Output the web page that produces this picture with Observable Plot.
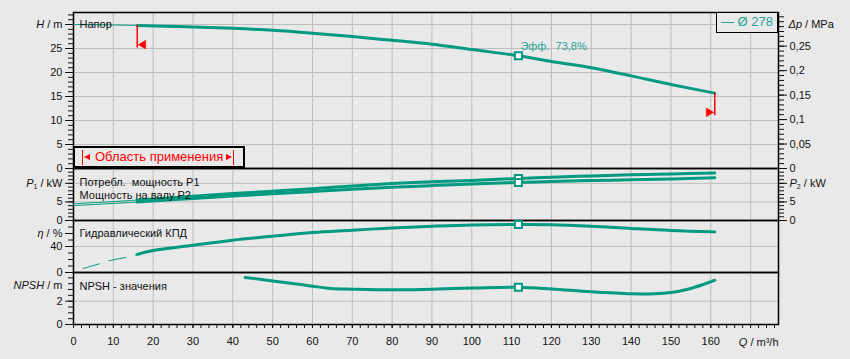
<!DOCTYPE html>
<html><head><meta charset="utf-8">
<script src="https://cdn.jsdelivr.net/npm/d3@7"></script>
<script src="https://cdn.jsdelivr.net/npm/@observablehq/plot@0.6"></script>
<style>
html,body{margin:0;padding:0;background:#e9e9e9;}
#chart{position:relative;width:850px;height:359px;font-family:"Liberation Sans",Arial,sans-serif;color:#111;overflow:hidden;}
#chart svg{position:absolute;left:0;overflow:visible;}
.box{position:absolute;box-sizing:border-box;background:#e9e9e9;}
</style></head><body><div id="chart"></div>
<script>
// ---------- data ----------
const flowH   = [0, 10, 16, 20, 30, 40, 50, 60, 70, 80, 90, 100, 111.7, 120, 130, 140, 150, 161];
const headM   = [30.0, 29.9, 29.8, 29.7, 29.5, 29.2, 28.8, 28.2, 27.5, 26.7, 25.9, 24.8, 23.5, 22.3, 21.0, 19.3, 17.5, 15.7];
const flowP   = [0, 10, 16, 20, 30, 40, 50, 60, 70, 80, 90, 100, 111.7, 120, 130, 140, 150, 161];
const powerP1 = [4.5, 5.1, 5.5, 5.8, 6.55, 7.25, 7.9, 8.55, 9.3, 9.95, 10.4, 10.8, 11.3, 11.65, 12.0, 12.3, 12.55, 12.8];
const powerP2 = [4.0, 4.6, 4.95, 5.25, 5.95, 6.6, 7.2, 7.8, 8.4, 8.95, 9.4, 9.8, 10.25, 10.5, 10.75, 10.95, 11.2, 11.5];
const flowEta = [0, 2.5, 6.7, 9.5, 13.8, 16, 20, 30, 40, 50, 60, 70, 80, 90, 100, 111.7, 120, 130, 140, 150, 161];
const effEta  = [1.5, 6.2, 13.8, 18.9, 24, 27.8, 33.8, 42, 49.7, 55.8, 61.5, 65, 68.6, 71.2, 73.2, 73.8, 73.5, 71.2, 67.7, 64.6, 62.5];
const flowNpsh = [43.1, 50, 57, 60, 64.5, 70, 80, 90, 100, 111.7, 120, 130, 140, 146, 150, 154.5, 158, 161];
const npshM    = [4.03, 3.74, 3.43, 3.29, 3.09, 3.03, 2.97, 3.03, 3.12, 3.2, 3.05, 2.8, 2.63, 2.64, 2.75, 3.05, 3.42, 3.8];
const dutyQ = 111.7;
const dutyLabel = "Эфф.\u00a0\u00a073,8%";
const rangeLimits = [16, 161];
const qTicks = [0,10,20,30,40,50,60,70,80,90,100,110,120,130,140,150,160];
const hTicks = [0,5,10,15,20,25];
const dpTicks = [0, 0.05, 0.1, 0.15, 0.2, 0.25];
const dpLabels = ["0","0,05","0,1","0,15","0,2","0,25"];
const pTicks = [0,5];
const etaTicks = [0,40];
const npshTicks = [0,2];
const legendLabel = "— Ø 278";
const rangeLabel = "Область применения";
const panelTexts = {h:["Напор"], p:["Потребл.\u00a0\u00a0мощность P1","Мощность на валу P2"], eta:["Гидравлический КПД"], npsh:["NPSH - значения"]};

// ---------- helpers ----------
const teal = "#009a80", tealText = "#25a597", gridC = "#bdbdbd";
const zip = (qs, vs) => qs.map((q,i)=>({q, v: vs[i]}));
const H = zip(flowH, headM), P1 = zip(flowP, powerP1), P2 = zip(flowP, powerP2);
const ETA = zip(flowEta, effEta), NPSH = zip(flowNpsh, npshM);
const lo = d => d.q <= rangeLimits[0], hi = d => d.q >= rangeLimits[0];
const at = (arr, q) => arr.find(d => d.q === q);
const MPA_TO_M = 1000/9.81;
const xDomain = [0, 177];
const xGrid = d3.range(10, 171, 10);
const chart = document.getElementById("chart");

function curve(data, w, extra={}) {
  return Plot.line(data, {x:"q", y:"v", stroke: teal, strokeWidth: w, curve: "catmull-rom", ...extra});
}
function duty(arr) {
  return Plot.dot([at(arr, dutyQ)], {x:"q", y:"v", symbol:"square", r:4, fill:"white", stroke: teal, strokeWidth: 2});
}
function panel(top, height, mt, mb, yDomain, marks) {
  const svg = Plot.plot({
    width: 850, height, marginLeft: 73, marginRight: 72, marginTop: mt, marginBottom: mb,
    x: {domain: xDomain, axis: null, label: null}, y: {domain: yDomain, axis: null, label: null},
    style: {fontFamily: '"Liberation Sans", Arial, sans-serif', fontSize: "11px", background: "transparent", color: "#111", overflow: "visible"},
    marks
  });
  svg.style.top = top + "px";
  chart.append(svg);
  enrich(svg);
}
const rich = {
  "H / m": [["H","i"],[" / m"]],
  "P1 / kW": [["P","i"],["1","s"],[" / kW","u"]],
  "P2 / kW": [["P","i"],["2","s"],[" / kW","u"]],
  "η / %": [["η","i"],[" / %"]],
  "NPSH / m": [["NPSH","i"],[" / m"]],
  "Δp / MPa": [["Δp","i"],[" / MPa"]],
  "Q / m³/h": [["Q","i"],[" / m³/h"]]
};
function enrich(svg) {
  d3.select(svg).selectAll("text").each(function() {
    const parts = rich[this.textContent];
    if (!parts) return;
    const s = d3.select(this); s.text(null);
    parts.forEach(([t, k]) => {
      const ts = s.append("tspan").text(t);
      if (k === "i") ts.attr("font-style", "italic");
      if (k === "s") ts.attr("font-size", "7px").attr("dy", "2");
      if (k === "u") ts.attr("dy", "-2");
    });
  });
}
const none = () => "";
const ay = (ticks, o) => Plot.axisY(ticks, {label: null, ...o});
const ax = (ticks, o) => Plot.axisX(ticks, {label: null, ...o});
const gx = () => Plot.gridX(xGrid, {stroke: gridC, strokeOpacity: 1});
const frame = () => Plot.frame({stroke: "#000", strokeWidth: 1.5});
const label = (txt, dy) => Plot.text([txt], {text: d => d, frameAnchor: "top-left", dx: 6, dy, textAnchor: "start", lineAnchor: "middle", fill: "#111"});

// ---------- panel 1: head ----------
const limits = rangeLimits.map(q => ({q, h: at(H, q).v}));
const dpMap = new Map(dpTicks.map((d,i) => [d*MPA_TO_M, dpLabels[i]]));
panel(0, 168, 12, 0, [0, 32.5], [
  gx(),
  Plot.gridY([...hTicks.slice(1), 30], {stroke: gridC, strokeOpacity: 1}),
  ay(d3.range(0, 33), {anchor: "left", tickSize: 5, tickFormat: none}),
  ay([...hTicks, 30], {anchor: "left", tickSize: 8, tickPadding: 3, tickFormat: d => d === 30 ? "H / m" : String(d)}),
  ay(d3.range(0, 32).map(k => k/100*MPA_TO_M), {anchor: "right", tickSize: 5, tickFormat: none}),
  ay([...dpMap.keys()], {anchor: "right", tickSize: 8, tickPadding: 3, tickFormat: d => dpMap.get(d)}),
  Plot.text([30], {y: d => d, text: () => "Δp / MPa", frameAnchor: "right", dx: 10, textAnchor: "start"}),
  frame(),
  curve(H.filter(lo), 1),
  curve(H.filter(hi), 3),
  Plot.ruleX(limits, {x: "q", y1: "h", y2: d => d.h - 4.7, stroke: "red", strokeWidth: 1.5}),
  Plot.dot(limits.slice(0,1), {x: "q", y: d => d.h - 4.0, symbol: "triangle", r: 3.2, fill: "red", stroke: "red", strokeWidth: 0.5, rotate: -90, dx: 6}),
  Plot.dot(limits.slice(1), {x: "q", y: d => d.h - 4.0, symbol: "triangle", r: 3.2, fill: "red", stroke: "red", strokeWidth: 0.5, rotate: 90, dx: -6}),
  duty(H),
  Plot.text([at(H, dutyQ)], {x: "q", y: "v", text: () => dutyLabel, dx: 2, dy: -9, textAnchor: "start", fill: tealText}),
  label(panelTexts.h[0], 12)
]);

// ---------- panel 2: power ----------
panel(168, 52, 0, 0, [0, 14], [
  gx(),
  Plot.gridY([5, 10], {stroke: gridC, strokeOpacity: 1}),
  ay(d3.range(0, 15), {anchor: "left", tickSize: 5, tickFormat: none}),
  ay([...pTicks, 10], {anchor: "left", tickSize: 8, tickPadding: 3, tickFormat: d => d === 10 ? "P1 / kW" : String(d)}),
  ay(d3.range(0, 15), {anchor: "right", tickSize: 5, tickFormat: none}),
  ay([...pTicks, 10], {anchor: "right", tickSize: 8, tickPadding: 3, tickFormat: d => d === 10 ? "P2 / kW" : String(d)}),
  frame(),
  curve(P1.filter(lo), 1), curve(P2.filter(lo), 1),
  curve(P1.filter(hi), 3), curve(P2.filter(hi), 3),
  duty(P1), duty(P2),
  label(panelTexts.p[0], 13.7),
  label(panelTexts.p[1], 27)
]);

// ---------- panel 3: efficiency ----------
panel(220, 52, 0, 0, [0, 80], [
  gx(),
  Plot.gridY([40], {stroke: gridC, strokeOpacity: 1}),
  ay(d3.range(0, 81, 10), {anchor: "left", tickSize: 5, tickFormat: none}),
  ay([...etaTicks, 60], {anchor: "left", tickSize: 8, tickPadding: 3, tickFormat: d => d === 60 ? "η / %" : String(d)}),
  frame(),
  curve(ETA.filter(lo), 1, {strokeDasharray: "17,10", strokeDashoffset: 17}),
  curve(ETA.filter(hi), 3),
  duty(ETA),
  label(panelTexts.eta[0], 13.3)
]);

// ---------- panel 4: NPSH + x axis ----------
panel(272, 87, 0, 35, [0, 4.46], [
  gx(),
  Plot.gridY([2], {stroke: gridC, strokeOpacity: 1}),
  ay(d3.range(0, 4.5, 0.5), {anchor: "left", tickSize: 5, tickFormat: none}),
  ay(npshTicks, {anchor: "left", tickSize: 8, tickPadding: 3, tickFormat: d => String(d)}),
  Plot.text([3.33], {y: d => d, text: () => "NPSH / m", frameAnchor: "left", dx: -11, textAnchor: "end"}),
  ax(d3.range(0, 177, 2), {anchor: "bottom", tickSize: 4, tickFormat: none}),
  ax(qTicks, {anchor: "bottom", tickSize: 4, tickPadding: 9, tickFormat: d => String(d)}),
  Plot.text([0], {text: () => "Q / m³/h", frameAnchor: "bottom-right", dy: 18, textAnchor: "end", lineAnchor: "middle"}),
  frame(),
  curve(NPSH, 3),
  duty(NPSH),
  label(panelTexts.npsh[0], 14)
]);

// ---------- overlays: legend and operating range ----------
const leg = document.createElement("div");
leg.className = "box";
Object.assign(leg.style, {left: "716px", top: "12px", width: "62px", height: "21px", border: "1.5px solid #000", color: tealText, fontSize: "13px", lineHeight: "18px", paddingLeft: "4px", whiteSpace: "nowrap"});
leg.textContent = legendLabel;
chart.append(leg);

const rng = document.createElement("div");
rng.className = "box";
Object.assign(rng.style, {left: "73px", top: "146px", width: "172px", height: "22px", border: "2px solid #000"});
rng.innerHTML =
  `<div style="position:absolute;left:7px;top:2px;height:15px;border-left:1.5px solid red"></div>` +
  `<div style="position:absolute;left:9px;top:5.5px;width:0;height:0;border-top:3px solid transparent;border-bottom:3px solid transparent;border-right:6px solid red"></div>` +
  `<span style="position:absolute;left:20px;top:0;line-height:18px;font-size:13px;color:red;white-space:nowrap">${rangeLabel}</span>` +
  `<div style="position:absolute;left:151px;top:5.5px;width:0;height:0;border-top:3px solid transparent;border-bottom:3px solid transparent;border-left:6px solid red"></div>` +
  `<div style="position:absolute;left:158px;top:2px;height:15px;border-left:1.5px solid red"></div>`;
chart.append(rng);
</script></body></html>
